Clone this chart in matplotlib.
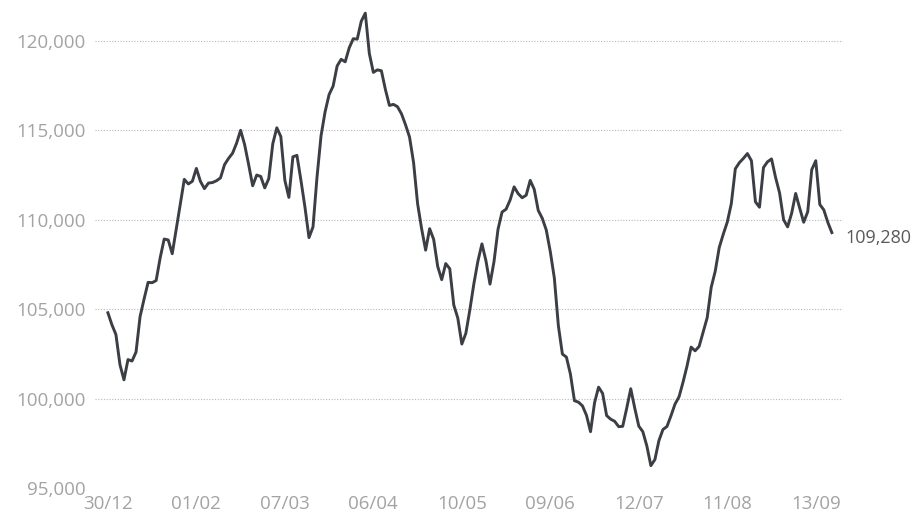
import matplotlib
matplotlib.use("Agg")
import matplotlib.pyplot as plt
from matplotlib.ticker import FuncFormatter

# daily closing values (trading days)
values = [
    104800, 104130, 103580, 101900, 101050, 102180, 102100, 102600, 104580, 105570,
    106500, 106480, 106600, 107870, 108920, 108870, 108100, 109500, 110870, 112260,
    112000, 112150, 112870, 112150, 111740, 112050, 112080, 112180, 112340, 113080,
    113430, 113720, 114280, 115000, 114200, 113080, 111900, 112500, 112420, 111780,
    112300, 114250, 115140, 114650, 112200, 111250, 113520, 113600, 112200, 110700,
    109000, 109600, 112400, 114700, 116030, 117000, 117470, 118600, 118970, 118830,
    119610, 120120, 120100, 121100, 121550, 119300, 118240, 118380, 118330, 117280,
    116390, 116450, 116320, 115920, 115310, 114620, 113200, 110900, 109500, 108300,
    109500, 108900, 107390, 106650, 107550, 107260, 105230, 104500, 103050, 103650,
    104970, 106430, 107690, 108650, 107700, 106400, 107660, 109470, 110430, 110590,
    111100, 111840, 111460, 111230, 111370, 112200, 111700, 110520, 110080, 109420,
    108210, 106740, 104080, 102490, 102320, 101370, 99880, 99800, 99590, 99060,
    98150, 99770, 100640, 100290, 99050, 98850, 98730, 98430, 98450, 99470,
    100550, 99460, 98460, 98150, 97350, 96250, 96590, 97650, 98270, 98440,
    99040, 99690, 100100, 100920, 101830, 102880, 102670, 102920, 103720, 104520,
    106220, 107120, 108450, 109190, 109870, 110900, 112850, 113190, 113430, 113700,
    113300, 111000, 110700, 112920, 113240, 113400, 112370, 111500, 110000, 109600,
    110360, 111470, 110650, 109860, 110450, 112800, 113300, 110850, 110550, 109850,
    109280,
]

tick_labels = ["30/12", "01/02", "07/03", "06/04", "10/05",
               "09/06", "12/07", "11/08", "13/09"]
tick_step = 22  # a label every 22 trading days
y_ticks = [95000, 100000, 105000, 110000, 115000, 120000]

plt.rcParams['font.family'] = ['Open Sans', 'DejaVu Sans']

fig = plt.figure(figsize=(9.18, 5.23), dpi=100)
ax = fig.add_axes([0.1035, 0.0669, 0.8145, 0.9233])

days = list(range(len(values)))
ax.plot(days, values, color="#3b3e44", linewidth=2.1, solid_joinstyle="round")

ax.set_xlim(-3.2, 182.7)
ax.set_ylim(95000, 122000)

ax.set_xticks([i * tick_step for i in range(len(tick_labels))])
ax.set_xticklabels(tick_labels)
ax.set_yticks(y_ticks)
ax.yaxis.set_major_formatter(FuncFormatter(lambda v, p: f"{int(v):,}"))

ax.tick_params(axis="both", length=0, labelsize=13.5, labelcolor="#a3a3a3")
ax.tick_params(axis="y", pad=7)
ax.tick_params(axis="x", pad=5)

ax.yaxis.grid(True, linestyle=(0, (1, 1.5)), color="#b8b8b8", linewidth=0.8)
ax.yaxis.get_gridlines()[0].set_visible(False)
ax.set_axisbelow(True)
for s in ax.spines.values():
    s.set_visible(False)

# last value label
ax.annotate(f"{values[-1]:,}", xy=(days[-1], values[-1]), xytext=(10, -4),
            textcoords="offset points", ha="left", va="center",
            fontsize=13, color="#5a5a5a", annotation_clip=False)

fig.savefig("out.png", dpi=100)
